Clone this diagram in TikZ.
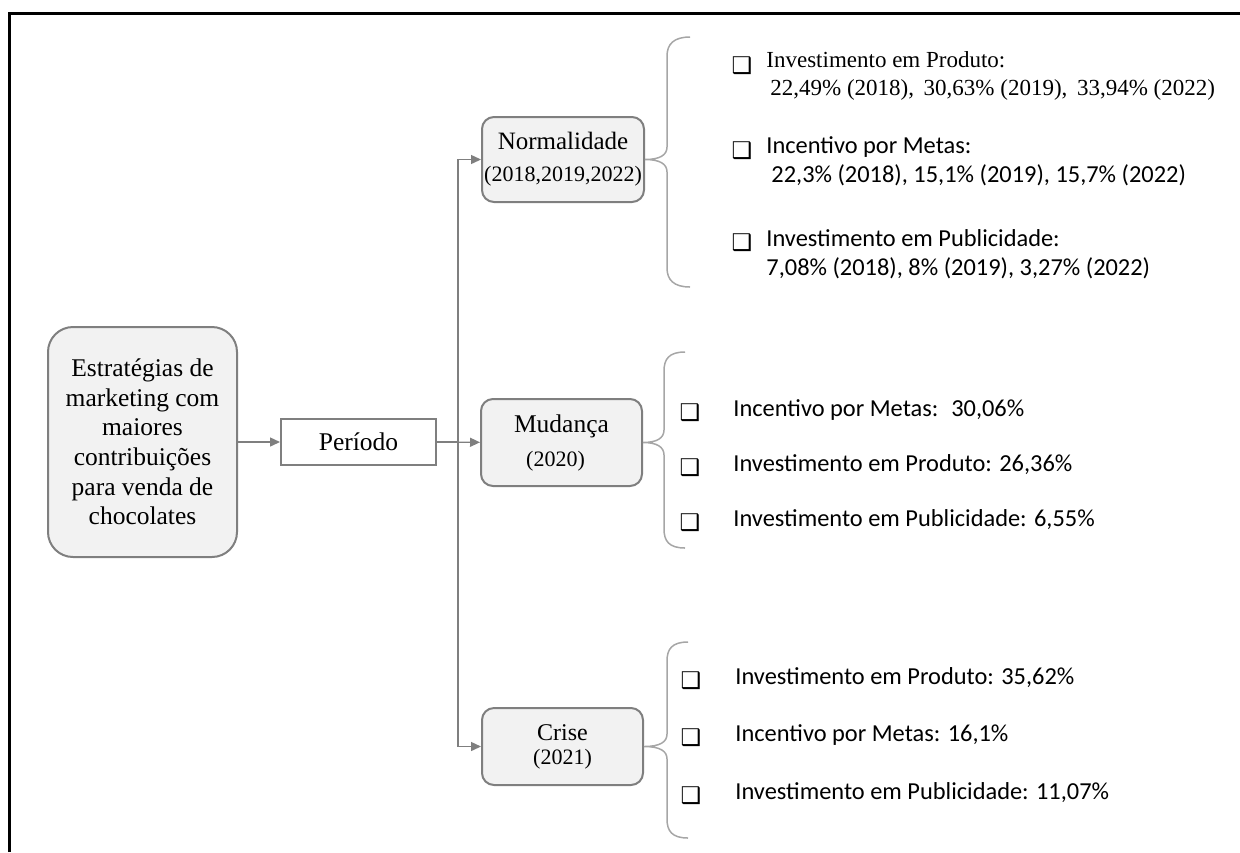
\documentclass[tikz,border=0pt]{standalone}
\usepackage{fontspec}
\setmainfont{Liberation Serif}
\newfontfamily\calfont{Carlito}
\newfontfamily\symfont{DejaVu Sans Bold}
\usetikzlibrary{arrows.meta}
\definecolor{hopfill}{HTML}{F2F2F2}
\definecolor{hopline}{HTML}{7F7F7F}
\definecolor{ngoac}{HTML}{A6A6A6}
\begin{document}
\begin{tikzpicture}[x=0.5pt, y=-0.5pt, >={Triangle[length=5pt,width=4.5pt]},
		hop/.style={draw=hopline, fill=hopfill, line width=1pt, rounded corners=6pt, align=center, inner sep=0pt},
		khung/.style={draw=hopline, fill=white, line width=1pt, inner sep=0pt},
		muiten/.style={->, draw=hopline, line width=0.7pt},
		ngoacnhon/.style={draw=ngoac, line width=0.75pt},
		chk/.style={font=\symfont\fontsize{11.5}{11.5}\selectfont, inner sep=0pt},
		muc/.style={anchor=west, inner sep=0pt, align=left, font=\calfont\fontsize{12.2}{14.5}\selectfont},
		mucs/.style={anchor=west, inner sep=0pt, align=left, font=\fontsize{11.5}{14}\selectfont}]
				\useasboundingbox (0,0) rectangle (1240,852);
				
				% Khung ngoài
				\draw[line width=1.5pt] (9,852) -- (9,13) -- (1240,13);
				
				% Các hộp chính
				\node[hop, rounded corners=12.5pt, minimum width=94.5pt, minimum height=115pt,
					font=\fontsize{12.75}{14.8}\selectfont] (chienluoc) at (142.5,442)
					{Estratégias de\\marketing com\\maiores\\contribuições\\para venda de\\chocolates};
				\node[khung, minimum width=77.5pt, minimum height=23pt,
					font=\fontsize{12.75}{15}\selectfont] (giaidoan) at (358.5,442) {Período};
				\node[hop, minimum width=81pt, minimum height=42.5pt] (binhthuong) at (563,159.5)
					{\fontsize{12.5}{15}\selectfont Normalidade\\[4pt]\fontsize{11}{13}\selectfont (2018,2019,2022)};
				\node[hop, minimum width=80.5pt, minimum height=43.5pt] (thaydoi) at (561.5,442.5)
					{\fontsize{12.75}{15}\selectfont Mudança\\[5pt]\fontsize{11}{13}\selectfont (2020)\hspace*{6pt}};
				\node[hop, minimum width=80.5pt, minimum height=38.5pt] (khunghoang) at (562.5,746.5)
					{\fontsize{12}{15}\selectfont Crise\\\fontsize{11}{13}\selectfont (2021)};
				
				% Vẽ các mũi tên
				\draw[muiten] (chienluoc) -- (giaidoan);
				\draw[muiten] (giaidoan) -- (thaydoi);
				\draw[muiten] (giaidoan.east) -- ++(21,0) |- (binhthuong.west);
				\draw[muiten] (giaidoan.east) -- ++(21,0) |- (khunghoang.west);
				
				% Các dấu ngoặc
				\draw[ngoacnhon] (690,37) .. controls (674,37) and (667,44) .. (667,56) -- (667,147)
					.. controls (667,155) and (660,159.5) .. (binhthuong.east)
					.. controls (660,159.5) and (667,164) .. (667,172)
					-- (667,268) .. controls (667,280) and (674,287) .. (690,287);
				\draw[ngoacnhon] (685,352) .. controls (669,352) and (664,359) .. (664,371) -- (664,430)
					.. controls (664,438) and (657,442.5) .. (thaydoi.east)
					.. controls (657,442.5) and (664,447) .. (664,455)
					-- (664,529) .. controls (664,541) and (669,548) .. (685,548);
				\draw[ngoacnhon] (688,642) .. controls (672,642) and (667,649) .. (667,661) -- (667,734)
					.. controls (667,742) and (660,746.5) .. (khunghoang.east)
					.. controls (660,746.5) and (667,751) .. (667,759)
					-- (667,819) .. controls (667,831) and (672,838) .. (688,838);
				
				% Nhóm 1
				\node[chk] (c11) at (742,66) {❑};
				\node[mucs] (m11) at (766,76) {Investimento em Produto:\\\hspace*{2pt}22,49\% (2018), \,30,63\% (2019), \,33,94\% (2022)};
				\node[chk] (c12) at (742,151) {❑};
				\node[muc] (m12) at (766,161.5) {Incentivo por Metas:\\\hspace*{2.5pt}22,3\% (2018), 15,1\% (2019), 15,7\% (2022)};
				\node[chk] (c13) at (742,243) {❑};
				\node[muc] (m13) at (766,254.5) {Investimento em Publicidade:\\7,08\% (2018), 8\% (2019), 3,27\% (2022)};
				
				% Nhóm 2
				\node[chk] (c21) at (690,413) {❑};
				\node[muc] (m21) at (733,410) {Incentivo por Metas: \ 30,06\%};
				\node[chk] (c22) at (690,468) {❑};
				\node[muc] (m22) at (733,465) {Investimento em Produto: 26,36\%};
				\node[chk] (c23) at (690,523) {❑};
				\node[muc] (m23) at (733,520) {Investimento em Publicidade: 6,55\%};
				
				% Nhóm 3
				\node[chk] (c31) at (691,681) {❑};
				\node[muc] (m31) at (735,678) {Investimento em Produto: 35,62\%};
				\node[chk] (c32) at (691,738) {❑};
				\node[muc] (m32) at (735,735) {Incentivo por Metas: 16,1\%};
				\node[chk] (c33) at (691,796) {❑};
				\node[muc] (m33) at (735,793) {Investimento em Publicidade: 11,07\%};
			\end{tikzpicture}
\end{document}
